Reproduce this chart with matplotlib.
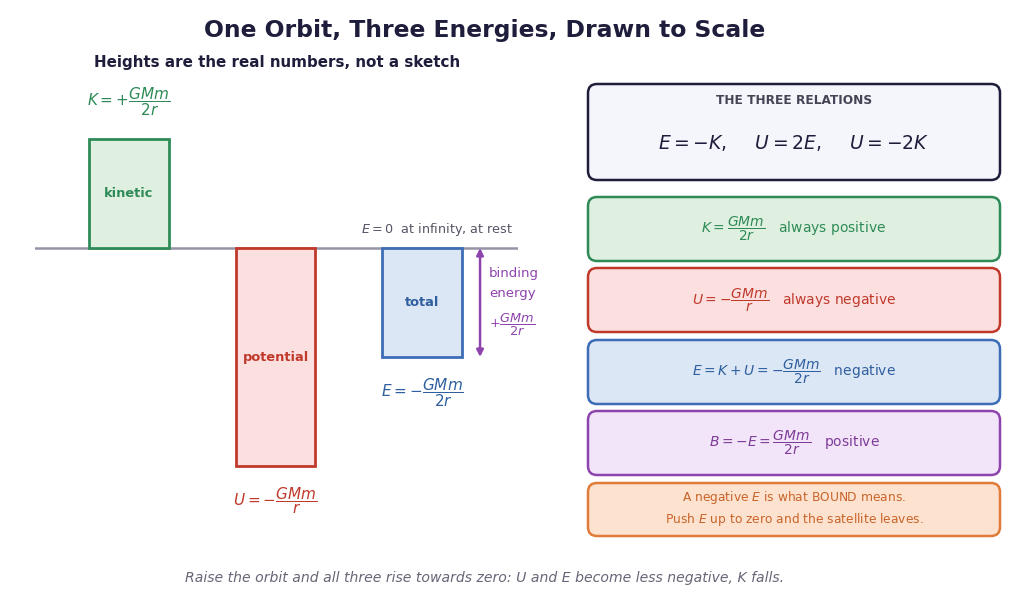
import matplotlib
matplotlib.use("Agg")
import matplotlib.pyplot as plt
from matplotlib.patches import FancyBboxPatch

# ---- data (energies in units of GMm/2r) ----
categories = ["kinetic", "potential", "total"]
values = [1.0, -2.0, -1.0]
bar_labels = [r"$K=+\dfrac{GMm}{2r}$", r"$U=-\dfrac{GMm}{r}$", r"$E=-\dfrac{GMm}{2r}$"]
binding_value = 1.0

face_cols = ["#dff0e0", "#fce0e0", "#dce7f6"]
edge_cols = ["#2e8b57", "#c0392b", "#3d6db5"]
text_cols = ["#2e8b57", "#c0392b", "#2f5f9e"]
purple = "#8e44ad"
navy = "#1e1e3c"

W, H = 1024, 605
fig = plt.figure(figsize=(W / 100, H / 100), dpi=100)

# ---- left chart axes (pixel box: x 35..518, y 80..530 from top) ----
ax = fig.add_axes([35 / W, 75 / H, 483 / W, 450 / H])
ax.set_xlim(-0.642, 2.655)
ax.set_ylim(-(530 - 248) / 109, (248 - 80) / 109)
ax.axis("off")

ax.axhline(0, color="#9494a8", lw=1.8, zorder=1)
xs = list(range(len(categories)))
ax.bar(xs, values, width=0.54, color=face_cols, edgecolor=edge_cols, linewidth=2, zorder=2)

for x, v, c, col in zip(xs, values, categories, text_cols):
    ax.text(x, v / 2, c, ha="center", va="center", fontsize=9.4, fontweight="bold", color=col, zorder=3)

ax.text(xs[0], values[0] + 0.34, bar_labels[0], ha="center", va="center", fontsize=11, color=text_cols[0])
ax.text(xs[1], values[1] - 0.32, bar_labels[1], ha="center", va="center", fontsize=11, color=text_cols[1])
ax.text(xs[2], values[2] - 0.33, bar_labels[2], ha="center", va="center", fontsize=11, color=text_cols[2])

ax.text(2.62, 0.17, r"$E=0$  at infinity, at rest", ha="right", va="center", fontsize=9.2, color="#555566")

ax_x = 2.396
ax.annotate("", xy=(ax_x, 0), xytext=(ax_x, -binding_value),
            arrowprops=dict(arrowstyle="<|-|>", color=purple, lw=1.8, mutation_scale=10,
                            shrinkA=0, shrinkB=0))
ax.text(2.457, -0.23, "binding", ha="left", va="center", fontsize=9.5, color=purple)
ax.text(2.457, -0.42, "energy", ha="left", va="center", fontsize=9.5, color=purple)
ax.text(2.457, -0.71, r"$+\dfrac{GMm}{2r}$", ha="left", va="center", fontsize=9.3, color=purple)

# ---- overlay in pixel coordinates for titles and panels ----
ov = fig.add_axes([0, 0, 1, 1], zorder=5)
ov.set_xlim(0, W)
ov.set_ylim(H, 0)
ov.axis("off")
ov.patch.set_alpha(0)

ov.text(485, 31, "One Orbit, Three Energies, Drawn to Scale", ha="center", va="center",
        fontsize=16.9, fontweight="bold", color=navy)
ov.text(94, 63, "Heights are the real numbers, not a sketch", ha="left", va="center",
        fontsize=10.9, fontweight="bold", color=navy)
ov.text(485, 578, "Raise the orbit and all three rise towards zero: U and E become less negative, K falls.",
        ha="center", va="center", fontsize=10.05, style="italic", color="#666677")

panels = [
    (84, 180, "#f4f6fb", navy),
    (197, 261, "#dff0e0", "#2e8b57"),
    (268, 332, "#fce0e0", "#c0392b"),
    (340, 404, "#dce7f6", "#3d6db5"),
    (411, 475, "#f3e5f9", "#8e44ad"),
    (483, 536, "#fde3cf", "#e07b39"),
]
x0, x1 = 588, 1000
r = 9
for (y0, y1, fc, ec) in panels:
    p = FancyBboxPatch((x0 + r, y0 + r), (x1 - x0) - 2 * r, (y1 - y0) - 2 * r,
                       boxstyle=f"round,pad={r}", facecolor=fc, edgecolor=ec, linewidth=1.8)
    ov.add_patch(p)

cx = (x0 + x1) / 2
ov.text(cx, 100, "THE THREE RELATIONS", ha="center", va="center", fontsize=8.7,
        fontweight="bold", color="#444455")
ov.text(cx, 143, r"$E=-K,\quad\ U=2E,\quad\ U=-2K$", ha="center", va="center",
        fontsize=13.5, color=navy)
ov.text(cx, 229, r"$K=\dfrac{GMm}{2r}$   always positive", ha="center", va="center",
        fontsize=10, color="#2e8b57")
ov.text(cx, 300, r"$U=-\dfrac{GMm}{r}$   always negative", ha="center", va="center",
        fontsize=10, color="#c0392b")
ov.text(cx, 372, r"$E=K+U=-\dfrac{GMm}{2r}$   negative", ha="center", va="center",
        fontsize=10, color="#2f5f9e")
ov.text(cx, 443, r"$B=-E=\dfrac{GMm}{2r}$   positive", ha="center", va="center",
        fontsize=10, color="#7d3c98")
ov.text(cx, 497, r"A negative $E$ is what BOUND means.", ha="center", va="center",
        fontsize=8.8, color="#c8642a")
ov.text(cx, 520, r"Push $E$ up to zero and the satellite leaves.", ha="center", va="center",
        fontsize=8.8, color="#c8642a")

fig.savefig("out.png", dpi=100, facecolor="white")
